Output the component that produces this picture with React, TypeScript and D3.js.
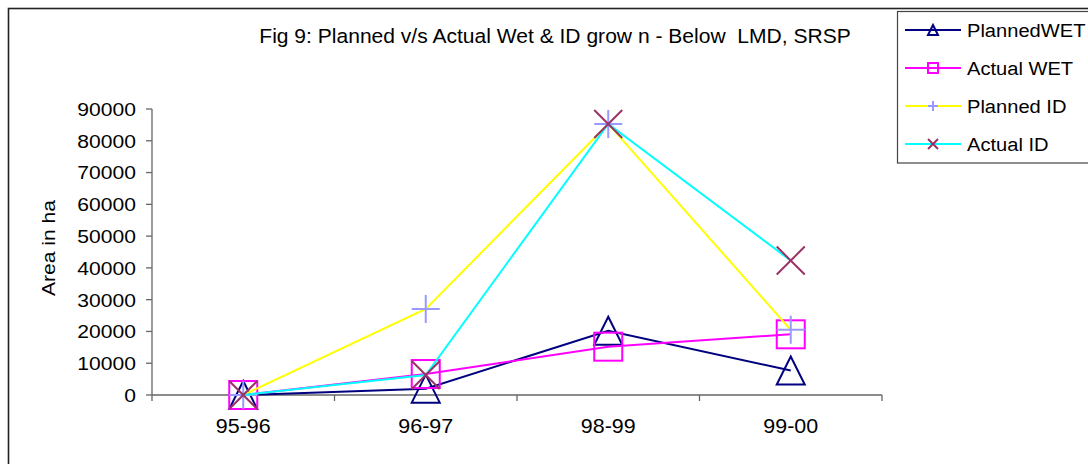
import type { ReactNode } from "react"
import * as d3 from "d3"

const categories = ["95-96", "96-97", "98-99", "99-00"]
const plannedWet = [0, 2000, 20200, 7700]
const actualWet = [0, 6600, 15200, 19100]
const plannedId = [0, 27100, 85300, 20500]
const actualId = [0, 6300, 85300, 42300]
const yTicks = [0, 10000, 20000, 30000, 40000, 50000, 60000, 70000, 80000, 90000]

type Marker = "triangle" | "square" | "plus" | "cross"

const SERIES: { name: string; values: number[]; line: string; marker: Marker; markerColor: string }[] = [
  { name: "PlannedWET", values: plannedWet, line: "#000080", marker: "triangle", markerColor: "#000080" },
  { name: "Actual WET", values: actualWet, line: "#ff00ff", marker: "square", markerColor: "#ff00ff" },
  { name: "Planned ID", values: plannedId, line: "#ffff00", marker: "plus", markerColor: "#9999ff" },
  { name: "Actual ID", values: actualId, line: "#00ffff", marker: "cross", markerColor: "#993366" },
]

const W = 1088
const H = 464
const FONT = "'Liberation Sans', Arial, sans-serif"
const AXIS = "#666"

// the source's text is a touch wider than Arial, so stretch it horizontally
function Label({
  x,
  y,
  size,
  sx = 1.1,
  rotate = 0,
  anchor = "start",
  dy,
  children,
}: {
  x: number
  y: number
  size: number
  sx?: number
  rotate?: number
  anchor?: "start" | "middle" | "end"
  dy?: string
  children: ReactNode
}) {
  return (
    <text
      transform={`translate(${x},${y}) rotate(${rotate}) scale(${sx},1)`}
      textAnchor={anchor}
      dy={dy}
      fontSize={size}
      fill="#000"
      style={{ whiteSpace: "pre" }}
    >
      {children}
    </text>
  )
}

function MarkerShape({ kind, x, y, s, color }: { kind: Marker; x: number; y: number; s: number; color: string }) {
  const h = s / 2
  if (kind === "triangle")
    return (
      <path
        d={`M${x},${y - h}L${x + h},${y + h}L${x - h},${y + h}Z`}
        fill="none"
        stroke={color}
        strokeWidth={2}
      />
    )
  if (kind === "square")
    return <rect x={x - h} y={y - h} width={s} height={s} fill="none" stroke={color} strokeWidth={2} />
  if (kind === "plus")
    return <path d={`M${x - h},${y}H${x + h}M${x},${y - h}V${y + h}`} stroke={color} strokeWidth={2} />
  return (
    <path
      d={`M${x - h},${y - h}L${x + h},${y + h}M${x + h},${y - h}L${x - h},${y + h}`}
      stroke={color}
      strokeWidth={2}
    />
  )
}

export default function App() {
  const x = d3.scaleBand<string>().domain(categories).range([152, 882])
  const y = d3.scaleLinear().domain([0, 90000]).range([395, 109])
  const cx = (c: string) => (x(c) ?? 0) + x.bandwidth() / 2
  const line = d3
    .line<number>()
    .x((_, i) => cx(categories[i]))
    .y((v) => y(v))

  const bounds = [...categories.map((c) => x(c) ?? 0), 882]

  return (
    <svg
      width={W}
      height={H}
      style={{ position: "fixed", left: 0, top: 0, display: "block", background: "#fff" }}
      fontFamily={FONT}
    >
      {/* outer chart frame */}
      <rect x={8.5} y={8.5} width={W + 20} height={H + 20} fill="none" stroke="#222" strokeWidth={1.6} />

      <Label x={555} y={43} size={19.5} sx={1.08} anchor="middle">
        Fig 9: Planned v/s Actual Wet &amp; ID grow n - Below  LMD, SRSP
      </Label>

      {/* y axis */}
      <line x1={152} x2={152} y1={y(90000)} y2={y(0)} stroke={AXIS} strokeWidth={1.3} />
      {yTicks.map((t) => (
        <g key={t}>
          <line x1={146} x2={152} y1={y(t)} y2={y(t)} stroke={AXIS} strokeWidth={1.3} />
          <Label x={136} y={y(t)} dy="0.36em" size={19} sx={1.11} anchor="end">
            {t}
          </Label>
        </g>
      ))}
      <Label x={55} y={248} rotate={-90} size={19} sx={1.11} anchor="middle">
        Area in ha
      </Label>

      {/* x axis */}
      <line x1={152} x2={882} y1={y(0)} y2={y(0)} stroke={AXIS} strokeWidth={1.3} />
      {bounds.map((b, i) => (
        <line key={i} x1={b} x2={b} y1={y(0)} y2={y(0) + 6} stroke={AXIS} strokeWidth={1.3} />
      ))}
      {categories.map((c) => (
        <Label key={c} x={cx(c)} y={433} size={19.5} sx={1.1} anchor="middle">
          {c}
        </Label>
      ))}

      {/* series */}
      {SERIES.map((s) => (
        <g key={s.name}>
          <path d={line(s.values) ?? undefined} fill="none" stroke={s.line} strokeWidth={2} />
          {s.values.map((v, i) => (
            <MarkerShape
              key={i}
              kind={s.marker}
              x={cx(categories[i])}
              y={y(v)}
              s={28}
              color={s.markerColor}
            />
          ))}
        </g>
      ))}

      {/* legend */}
      <rect x={897.5} y={11.5} width={220} height={151.5} fill="#fff" stroke="#444" strokeWidth={1.2} />
      {SERIES.map((s, i) => {
        const ly = 30 + i * 38
        return (
          <g key={s.name}>
            <line x1={905} x2={961} y1={ly} y2={ly} stroke={s.line} strokeWidth={2} />
            <MarkerShape kind={s.marker} x={933} y={ly} s={10} color={s.markerColor} />
            <Label x={967} y={ly} dy="0.36em" size={18.8} sx={1.07}>
              {s.name}
            </Label>
          </g>
        )
      })}
    </svg>
  )
}
